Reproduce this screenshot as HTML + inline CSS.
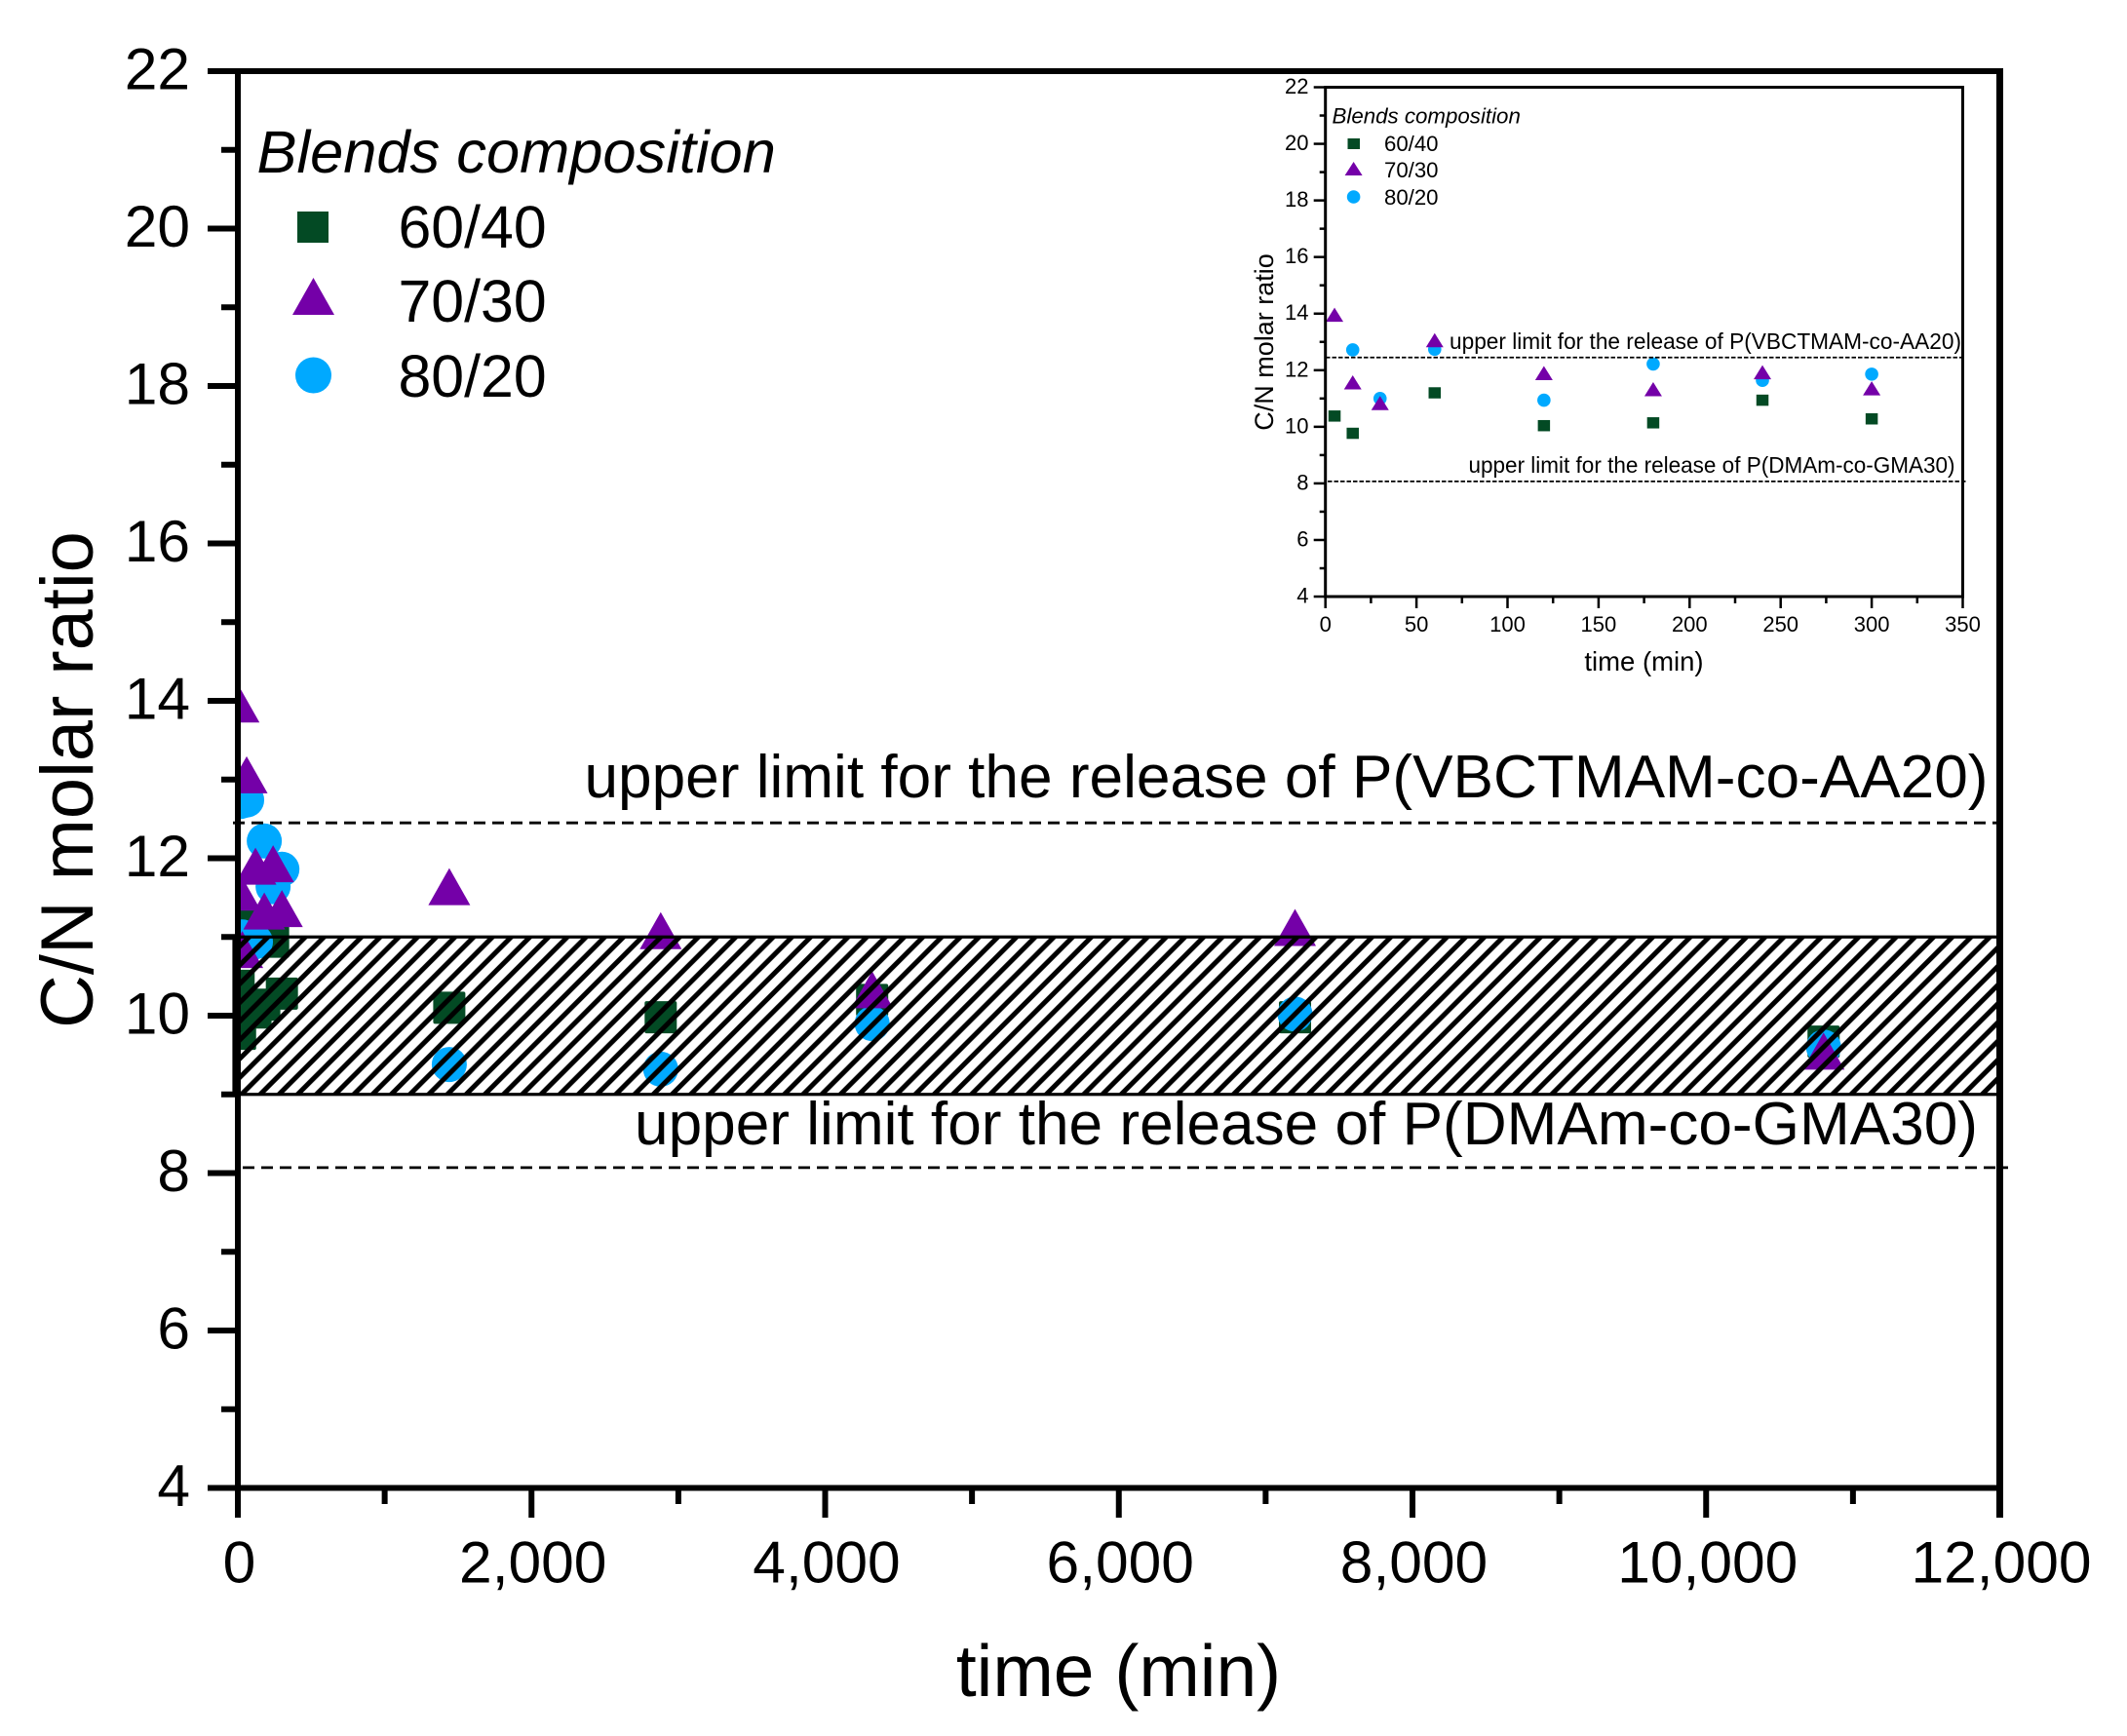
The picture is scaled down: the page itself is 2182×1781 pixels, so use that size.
<!DOCTYPE html>
<html lang="en">
<head>
<meta charset="utf-8">
<title>C/N molar ratio over time</title>
<style>
html,body{margin:0;padding:0;background:#fff;}
svg{display:block;font-family:"Liberation Sans",Arial,sans-serif;}
text{fill:#000;}
</style>
</head>
<body>
<svg id="chart" xmlns="http://www.w3.org/2000/svg" width="2182" height="1781" viewBox="0 0 2182 1781">
  <defs>
    <pattern id="hatch" width="19.2" height="19.2" patternUnits="userSpaceOnUse" patternTransform="translate(7.3,0)">
      <path d="M-5,5 L5,-5 M-5,24.2 L24.2,-5 M14.2,24.2 L24.2,14.2" stroke="#000" stroke-width="5" fill="none"/>
    </pattern>
    <clipPath id="main-clip"><rect x="244" y="73" width="1807" height="1454"/></clipPath>
  </defs>
  <rect x="0" y="0" width="2182" height="1781" fill="#fff"/>
  <g id="main-marks" clip-path="url(#main-clip)"></g>
  <rect id="band" x="240" y="959" width="1811" height="164" fill="url(#hatch)" stroke="#000" stroke-width="3.2"/>
  <g id="main-axes"></g>
  <line id="main-upper-limit" x1="239" x2="2052" stroke="#000" stroke-width="2.8" stroke-dasharray="12 7"/>
  <line id="main-lower-limit" x1="249" x2="2060" stroke="#000" stroke-width="2.8" stroke-dasharray="12 7"/>
  <text x="599.5" y="818" font-size="62" textLength="1440" lengthAdjust="spacingAndGlyphs">upper limit for the release of P(VBCTMAM-co-AA20)</text>
  <text x="651" y="1174" font-size="62" textLength="1378" lengthAdjust="spacingAndGlyphs">upper limit for the release of P(DMAm-co-GMA30)</text>
  <text transform="translate(95,800) rotate(-90)" text-anchor="middle" font-size="75.8">C/N molar ratio</text>
  <text x="1147.5" y="1740" text-anchor="middle" font-size="75">time (min)</text>

  <g>
    <text x="263.5" y="177" font-size="61.4" font-style="italic">Blends composition</text>
    <rect x="305" y="217" width="32" height="32" fill="#034A24"/>
    <text x="408.5" y="254" font-size="60.8">60/40</text>
    <polygon points="321.5,285 343,323 300,323" fill="#7400A8"/>
    <text x="408.5" y="330" font-size="60.8">70/30</text>
    <ellipse cx="321.5" cy="385" rx="18.5" ry="18.5" fill="#00A9FF"/>
    <text x="408.5" y="407" font-size="60.8">80/20</text>
  </g>

  <g>
    <g id="inset-marks"></g>
    <g id="inset-axes"></g>
    <line id="inset-upper-limit" x1="1360" x2="2014" stroke="#000" stroke-width="1.8" stroke-dasharray="4.5 2"/>
    <line id="inset-lower-limit" x1="1362" x2="2018" stroke="#000" stroke-width="1.8" stroke-dasharray="4.5 2"/>
    <text x="1487" y="358" font-size="22.7" textLength="525" lengthAdjust="spacingAndGlyphs">upper limit for the release of P(VBCTMAM-co-AA20)</text>
    <text x="1506.5" y="485" font-size="22.7" textLength="499" lengthAdjust="spacingAndGlyphs">upper limit for the release of P(DMAm-co-GMA30)</text>
    <text transform="translate(1306,351) rotate(-90)" text-anchor="middle" font-size="27">C/N molar ratio</text>
    <text x="1686.5" y="688" text-anchor="middle" font-size="27.5">time (min)</text>
    <text x="1366.5" y="126.5" font-size="22.3" font-style="italic">Blends composition</text>
    <rect x="1382.5" y="142" width="12.5" height="11" fill="#034A24"/>
    <text x="1420" y="155" font-size="22.2">60/40</text>
    <polygon points="1388.6,166 1397.6,180 1379.6,180" fill="#7400A8"/>
    <text x="1420" y="182" font-size="22.2">70/30</text>
    <circle cx="1388.6" cy="202" r="6.8" fill="#00A9FF"/>
    <text x="1420" y="210" font-size="22.2">80/20</text>
  </g>
</svg>
<script>
// Sampling times (min) and measured C/N ratios, shared by main plot and inset
const timesSquare = [5, 15, 60, 120, 180, 240, 300, 1440, 2880, 4320, 7200, 10800];
const ratioSquare = [10.38, 9.77, 11.2, 10.04, 10.14, 10.94, 10.28, 10.1, 9.98, 10.2, 9.98, 9.67];
const timesTriangle = [5, 15, 30, 60, 120, 180, 240, 300, 1440, 2880, 4320, 7200, 10800];
const ratioTriangle = [13.96, 11.57, 10.84, 13.06, 11.9, 11.33, 11.93, 11.36, 11.64, 11.08, 10.33, 11.12, 9.55];
const timesCircle = [15, 30, 60, 120, 180, 240, 300, 1440, 2880, 4320, 7200, 10800];
const ratioCircle = [12.72, 11.0, 12.74, 10.94, 12.22, 11.64, 11.86, 9.38, 9.32, 9.9, 10.02, 9.6];
const limitUpper = 12.45;
const limitLower = 8.07;
const bandRange = [9, 11];
const mainXTicks = [0, 2000, 4000, 6000, 8000, 10000, 12000];
const mainXMinorTicks = [1000, 3000, 5000, 7000, 9000, 11000];
const insetXTicks = [0, 50, 100, 150, 200, 250, 300, 350];
const insetXMinorTicks = [25, 75, 125, 175, 225, 275, 325];
const yTicks = [4, 6, 8, 10, 12, 14, 16, 18, 20, 22];
const yMinorTicks = [5, 7, 9, 11, 13, 15, 17, 19, 21];
const insetMaxTime = 300;

const NS = 'http://www.w3.org/2000/svg';
const mainX = t => 244 + (t / 12000) * 1807.5;
const mainY = v => 73 + (22 - v) * 80.75;
const insetX = t => 1359.7 + (t / 350) * 653.8;
const insetY = v => 89.5 + (22 - v) * 29.03;

function make(parent, tag, attrs, txt) {
  const el = document.createElementNS(NS, tag);
  for (const k in attrs) el.setAttribute(k, attrs[k]);
  if (txt !== undefined) el.textContent = txt;
  parent.appendChild(el);
  return el;
}
function seg(parent, x1, y1, x2, y2, w) {
  const el = make(parent, 'line', {x1: x1, y1: y1, x2: x2, y2: y2, stroke: '#000', 'stroke-width': w});
  
  return el;
}
const fmt = n => n.toString().replace(/\B(?=(\d{3})+$)/g, ',');

function drawSquares(g, ts, vs, X, Y, w, h, rx) {
  ts.forEach((t, i) => {
    const el = make(g, 'rect', {x: X(t) - w / 2, y: Y(vs[i]) - h / 2, width: w, height: h, rx: rx, fill: '#034A24'});
    
    
  });
}
function drawCircles(g, ts, vs, X, Y, r) {
  ts.forEach((t, i) => {
    const el = make(g, 'circle', {cx: X(t), cy: Y(vs[i]), r: r, fill: '#00A9FF'});
    
    
  });
}
function drawTriangles(g, ts, vs, X, Y, w, h) {
  ts.forEach((t, i) => {
    const x = X(t), y = Y(vs[i]);
    const pts = x + ',' + (y - h / 2) + ' ' + (x + w / 2) + ',' + (y + h / 2) + ' ' + (x - w / 2) + ',' + (y + h / 2);
    const el = make(g, 'polygon', {points: pts, fill: '#7400A8'});
    
    
  });
}
function keep(ts, vs) {
  const a = [], b = [];
  ts.forEach((t, i) => { if (t <= insetMaxTime) { a.push(t); b.push(vs[i]); } });
  return [a, b];
}

// Main plot marks
const mm = document.getElementById('main-marks');
drawSquares(mm, timesSquare, ratioSquare, mainX, mainY, 33, 33, 2);
drawCircles(mm, timesCircle, ratioCircle, mainX, mainY, 18);
drawTriangles(mm, timesTriangle, ratioTriangle, mainX, mainY, 43, 38);

// Inset marks
const im = document.getElementById('inset-marks');
const sq = keep(timesSquare, ratioSquare);
const ci = keep(timesCircle, ratioCircle);
const tr = keep(timesTriangle, ratioTriangle);
drawSquares(im, sq[0], sq[1], insetX, insetY, 12.5, 11.5, 0);
drawCircles(im, ci[0], ci[1], insetX, insetY, 6.8);
drawTriangles(im, tr[0], tr[1], insetX, insetY, 18, 14.5);

// Band and limit lines from data
const band = document.getElementById('band');
band.setAttribute('y', mainY(bandRange[1]));
band.setAttribute('height', mainY(bandRange[0]) - mainY(bandRange[1]));
[['main-upper-limit', mainY, limitUpper], ['main-lower-limit', mainY, limitLower],
 ['inset-upper-limit', insetY, limitUpper], ['inset-lower-limit', insetY, limitLower]].forEach(d => {
  const el = document.getElementById(d[0]);
  el.setAttribute('y1', d[1](d[2]));
  el.setAttribute('y2', d[1](d[2]));
});

// Main axes
const ma = document.getElementById('main-axes');
const m0x = mainX(0), m1x = mainX(12000), m0y = mainY(4), m1y = mainY(22);
let ln;
ln = seg(ma, m0x, m1y - 3, m0x, 1557, 6);

ln = seg(ma, m1x, m1y - 3, m1x, 1557, 7);

ln = seg(ma, 213, m1y, m1x + 3, m1y, 6);

ln = seg(ma, 213, m0y, m1x + 3, m0y, 6);

yTicks.forEach(v => {
  const t = seg(ma, 213, mainY(v), m0x, mainY(v), 6);
  
  const lab = make(ma, 'text', {x: 195, y: mainY(v) + 18.5, 'text-anchor': 'end', 'font-size': 60.5}, String(v));
  
  
});
yMinorTicks.forEach(v => {
  const t = seg(ma, 227, mainY(v), m0x, mainY(v), 6);
  
});
mainXTicks.forEach(v => {
  const t = seg(ma, mainX(v), m0y, mainX(v), 1557, 6);
  
  const lab = make(ma, 'text', {x: mainX(v) + 1.5, y: 1623.5, 'text-anchor': 'middle', 'font-size': 60.5}, fmt(v));
  
  
});
mainXMinorTicks.forEach(v => {
  const t = seg(ma, mainX(v), m0y, mainX(v), 1543, 6);
  
});

// Inset axes
const ia = document.getElementById('inset-axes');
const i0x = insetX(0), i1x = insetX(350), i0y = insetY(4), i1y = insetY(22);
const frame = make(ia, 'rect', {x: i0x, y: i1y, width: i1x - i0x, height: i0y - i1y, fill: 'none', stroke: '#000', 'stroke-width': 3});


yTicks.forEach(v => {
  const t = seg(ia, i0x - 12, insetY(v), i0x, insetY(v), 2.5);
  
  const lab = make(ia, 'text', {x: 1342.5, y: insetY(v) + 6.5, 'text-anchor': 'end', 'font-size': 22}, String(v));
  
  
});
yMinorTicks.forEach(v => {
  const t = seg(ia, i0x - 6, insetY(v), i0x, insetY(v), 2.5);
  
});
insetXTicks.forEach(v => {
  const t = seg(ia, insetX(v), i0y, insetX(v), 624, 2.5);
  
  const lab = make(ia, 'text', {x: insetX(v), y: 648, 'text-anchor': 'middle', 'font-size': 22}, String(v));
  
  
});
insetXMinorTicks.forEach(v => {
  const t = seg(ia, insetX(v), i0y, insetX(v), 619, 2.5);
  
});
</script>
</body>
</html>
